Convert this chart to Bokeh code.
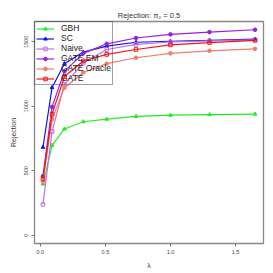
from bokeh.plotting import figure
from bokeh.models import FixedTicker, Range1d, Legend, LegendItem
from bokeh.embed import file_html
from bokeh.resources import INLINE

lam = [0.02, 0.09, 0.185, 0.33, 0.51, 0.735, 1.0, 1.3, 1.65]
gbh = [397, 697, 824, 880, 900, 921, 931, 935, 939]
sc = [682, 1145, 1330, 1420, 1466, 1496, 1504, 1511, 1521]
naive = [239, 804, 1170, 1335, 1440, 1480, 1498, 1507, 1515]
gate_em = [458, 995, 1270, 1410, 1484, 1529, 1557, 1575, 1593]
gate_oracle = [417, 900, 1143, 1262, 1330, 1376, 1410, 1430, 1445]
gate = [437, 939, 1231, 1351, 1402, 1440, 1476, 1494, 1511]

x_ticks = [0.0, 0.5, 1.0, 1.5]
x_tick_labels = ["0.0", "0.5", "1.0", "1.5"]
y_ticks = [0, 500, 1000, 1500]
y_tick_labels = ["0", "500", "1000", "1500"]

FONT = "Liberation Sans"

p = figure(width=271, height=271, output_backend="svg", toolbar_location=None,
           x_range=Range1d(-0.045, 1.715), y_range=Range1d(-64, 1657),
           min_border_left=34, min_border_right=8, min_border_top=21, min_border_bottom=25)
p.title.text = "Rejection: π\u2082 = 0.5"
p.title.align = "center"
p.title.text_font = FONT
p.title.text_font_size = "7.5px"
p.title.text_font_style = "normal"
p.title.text_color = "#333333"
p.title.standoff = 4

p.grid.visible = False
p.outline_line_color = "#888888"
p.outline_line_width = 1.3
p.background_fill_color = "white"

p.xaxis.ticker = FixedTicker(ticks=x_ticks)
p.xaxis.major_label_overrides = {t: l for t, l in zip(x_ticks, x_tick_labels)}
p.yaxis.ticker = FixedTicker(ticks=y_ticks)
p.yaxis.major_label_overrides = {t: l for t, l in zip(y_ticks, y_tick_labels)}
p.yaxis.major_label_orientation = "vertical"
for ax in (p.xaxis, p.yaxis):
    ax.axis_line_color = None
    ax.major_tick_line_color = "#777777"
    ax.major_tick_out = 3
    ax.major_tick_in = 0
    ax.minor_tick_line_color = None
    ax.major_label_text_font = FONT
    ax.major_label_text_font_size = "5.5px"
    ax.major_label_text_color = "#444444"
    ax.major_label_standoff = 3
    ax.axis_label_text_font = FONT
    ax.axis_label_text_font_style = "normal"
    ax.axis_label_text_font_size = "7px"
    ax.axis_label_text_color = "#333333"
    ax.axis_label_standoff = 5
p.xaxis.axis_label = "λ"
p.yaxis.axis_label = "Rejection"

series = [
    ("GBH", gbh, "#22EE22", "triangle", True),
    ("SC", sc, "#1010F0", "triangle", True),
    ("Naive", naive, "#C070E8", "square", False),
    ("GATE EM", gate_em, "#9A1EE0", "circle", True),
    ("GATE Oracle", gate_oracle, "#F47C68", "circle", True),
    ("GATE", gate, "#F41414", "square", False),
]

items = []
for name, ys, col, mk, filled in series:
    r1 = p.line(lam, ys, line_color=col, line_width=1.2)
    r2 = p.scatter(lam, ys, marker=mk, size=3.6, line_color=col, line_width=1.0,
                   fill_color=col if filled else None)
    items.append(LegendItem(label=name, renderers=[r1, r2]))

leg = Legend(items=items, location="top_left")
leg.label_text_font = FONT
leg.label_text_font_size = "8.5px"
leg.label_text_color = "#222222"
leg.label_height = 9
leg.glyph_height = 9
leg.glyph_width = 18
leg.spacing = 0
leg.padding = 1
leg.margin = 0
leg.label_standoff = 7
leg.border_line_color = "#444444"
leg.border_line_width = 1
leg.background_fill_alpha = 0
p.add_layout(leg)

open("out.html", "w").write(file_html(p, INLINE))
